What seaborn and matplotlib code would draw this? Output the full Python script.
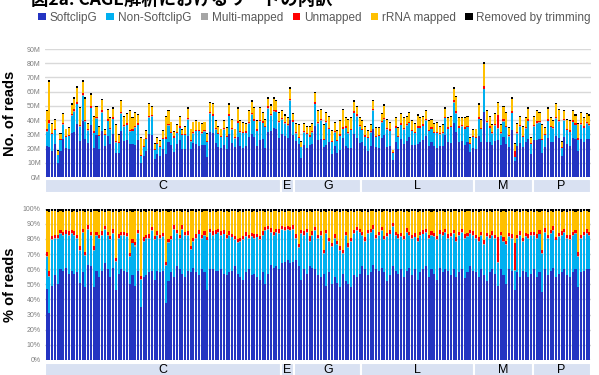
import numpy as np
import pandas as pd
import matplotlib
matplotlib.use("Agg")
import matplotlib.pyplot as plt
import seaborn as sns
from matplotlib.patches import Patch, Rectangle
from matplotlib.ticker import FuncFormatter

# --- data ---
groups = ["C", "E", "G", "L", "M", "P"]
group_sizes = [85, 5, 24, 41, 21, 21]

# total reads per sample (millions)
total_m = [
    # C
    47, 68, 38, 41, 19, 31, 45, 34, 35, 52,
    56, 64, 49, 68, 56, 38, 59, 43, 50, 36,
    55, 34, 48, 42, 49, 37, 30, 54, 43, 45,
    47, 42, 46, 44, 28, 27, 33, 52, 50, 24,
    28, 26, 33, 43, 47, 39, 32, 37, 43, 34,
    36, 49, 34, 39, 40, 39, 38, 39, 31, 53,
    52, 40, 36, 34, 40, 35, 52, 41, 34, 49,
    40, 39, 38, 47, 54, 49, 40, 49, 46, 41,
    56, 51, 56, 54, 46,
    # E
    47, 44, 42, 63, 45,
    # G
    38, 37, 25, 38, 36, 36, 38, 60, 47, 48,
    37, 46, 43, 33, 39, 33, 40, 48, 42, 41,
    42, 54, 50, 42,
    # L
    40, 36, 33, 37, 54, 35, 35, 45, 51, 41,
    39, 19, 42, 35, 45, 42, 43, 46, 40, 38,
    44, 42, 43, 47, 40, 41, 38, 39, 36, 37,
    49, 42, 43, 63, 57, 42, 42, 42, 43, 28,
    34,
    # M
    34, 52, 41, 81, 47, 43, 37, 45, 53, 37,
    50, 46, 35, 56, 24, 38, 43, 36, 42, 49,
    28,
    # P
    43, 47, 46, 37, 35, 49, 42, 40, 52, 48,
    25, 47, 41, 40, 47, 44, 38, 46, 42, 45,
    44,
]

# SoftclipG share (%)
softclip_pct = [
    # C
    47, 31, 49, 56, 50, 60, 59, 61, 57, 59,
    57, 58, 51, 58, 48, 63, 62, 48, 59, 55,
    59, 64, 60, 55, 61, 46, 57, 60, 59, 58,
    50, 56, 49, 59, 35, 55, 56, 58, 59, 53,
    59, 58, 59, 38, 52, 58, 55, 62, 60, 57,
    55, 59, 58, 61, 58, 56, 60, 58, 46, 60,
    60, 59, 59, 60, 57, 56, 58, 59, 62, 57,
    55, 53, 58, 60, 56, 57, 55, 53, 58, 50,
    57, 63, 61, 62, 60,
    # E
    64, 65, 66, 64, 65,
    # G
    66, 62, 53, 60, 57, 62, 61, 60, 56, 55,
    57, 49, 58, 50, 55, 51, 48, 57, 52, 50,
    48, 56, 55, 57,
    # L
    62, 60, 56, 58, 63, 60, 59, 61, 58, 52,
    56, 62, 59, 57, 60, 55, 59, 61, 56, 60,
    53, 58, 60, 62, 55, 60, 57, 53, 61, 58,
    60, 59, 56, 60, 55, 58, 60, 54, 58, 62,
    59,
    # M
    58, 55, 60, 56, 52, 58, 60, 57, 49, 60,
    56, 50, 60, 59, 46, 58, 55, 59, 58, 55,
    57,
    # P
    60, 55, 58, 45, 60, 56, 59, 61, 55, 57,
    58, 60, 56, 55, 58, 60, 48, 58, 59, 60,
    60,
]

# SoftclipG + Non-SoftclipG share (%)
uniq_pct = [
    # C
    68, 55, 79, 80, 80, 83, 82, 83, 82, 83,
    82, 80, 72, 84, 69, 86, 82, 72, 82, 80,
    82, 86, 82, 79, 83, 65, 80, 82, 82, 81,
    68, 77, 75, 83, 53, 78, 80, 80, 85, 79,
    82, 80, 81, 62, 77, 79, 86, 83, 80, 86,
    82, 82, 73, 78, 80, 83, 80, 82, 79, 84,
    82, 83, 84, 82, 83, 80, 82, 81, 79, 77,
    78, 79, 81, 80, 81, 80, 81, 79, 82, 85,
    86, 84, 82, 84, 83,
    # E
    86, 85, 86, 85, 86,
    # G
    80, 74, 83, 82, 84, 78, 82, 85, 80, 82,
    70, 83, 78, 75, 80, 76, 72, 70, 82, 74,
    78, 83, 85, 84,
    # L
    82, 78, 83, 84, 86, 80, 82, 85, 79, 81,
    83, 88, 82, 80, 81, 79, 84, 82, 80, 81,
    78, 82, 83, 84, 80, 82, 81, 79, 83, 82,
    84, 80, 81, 83, 78, 82, 84, 80, 81, 83,
    82,
    # M
    80, 78, 82, 76, 81, 80, 82, 80, 64, 82,
    78, 76, 81, 80, 59, 80, 82, 78, 81, 80,
    82,
    # P
    82, 80, 83, 70, 84, 80, 83, 85, 79, 81,
    82, 84, 80, 79, 82, 83, 68, 80, 82, 83,
    82,
]

multi_pct = [
    # C
    0.8, 0.6, 0.7, 0.8, 0.6, 0.7, 0.8, 0.6, 0.7, 0.8,
    0.6, 0.7, 0.8, 0.6, 0.7, 0.8, 0.6, 0.7, 0.8, 0.6,
    0.7, 0.8, 0.6, 0.7, 0.8, 0.6, 0.7, 0.8, 0.6, 0.7,
    0.8, 0.6, 0.7, 0.8, 0.6, 0.7, 0.8, 0.6, 0.7, 0.8,
    0.6, 0.7, 0.8, 0.6, 0.7, 0.8, 0.6, 0.7, 0.8, 0.6,
    0.7, 0.8, 0.6, 0.7, 0.8, 0.6, 0.7, 0.8, 0.6, 0.7,
    0.8, 0.6, 0.7, 0.8, 0.6, 0.7, 0.8, 0.6, 0.7, 0.8,
    0.6, 0.7, 0.8, 0.6, 0.7, 0.8, 0.6, 0.7, 0.8, 0.6,
    0.7, 0.8, 0.6, 0.7, 0.8,
    # E
    0.6, 0.7, 0.8, 0.6, 0.7,
    # G
    0.8, 0.6, 0.7, 0.8, 0.6, 0.7, 0.8, 0.6, 0.7, 0.8,
    0.6, 0.7, 0.8, 0.6, 0.7, 0.8, 0.6, 0.7, 0.8, 0.6,
    0.7, 0.8, 0.6, 0.7,
    # L
    0.8, 0.6, 0.7, 0.8, 0.6, 0.7, 0.8, 0.6, 0.7, 0.8,
    0.6, 0.7, 0.8, 0.6, 0.7, 0.8, 0.6, 0.7, 0.8, 0.6,
    0.7, 0.8, 0.6, 0.7, 0.8, 0.6, 0.7, 0.8, 0.6, 0.7,
    0.8, 0.6, 0.7, 0.8, 0.6, 0.7, 0.8, 0.6, 0.7, 0.8,
    0.6,
    # M
    0.7, 0.8, 0.6, 0.7, 0.8, 0.6, 0.7, 0.8, 0.6, 0.7,
    0.8, 0.6, 0.7, 0.8, 0.6, 0.7, 0.8, 0.6, 0.7, 0.8,
    0.6,
    # P
    0.7, 0.8, 0.6, 0.7, 0.8, 0.6, 0.7, 0.8, 0.6, 0.7,
    0.8, 0.6, 0.7, 0.8, 0.6, 0.7, 0.8, 0.6, 0.7, 0.8,
    0.6,
]

unmapped_pct = [
    # C
    2.5, 3, 2, 2, 2, 2.5, 2, 2, 2.5, 2,
    2.5, 2, 2.5, 2, 2, 2.5, 2, 2.5, 2, 2,
    2.5, 2, 2, 2, 2.5, 2, 2.5, 2, 2, 2.5,
    2, 2.5, 2, 2, 2, 2.5, 2, 2.5, 2, 2,
    2.5, 2, 2, 2.5, 2, 2, 2.5, 2, 2, 2.5,
    2, 2.5, 2, 2, 2.5, 2, 2, 2.5, 2, 2,
    2.5, 2, 2, 2.5, 2, 2, 2.5, 2, 2, 2.5,
    2, 2, 2.5, 2, 2, 2.5, 2, 2, 2.5, 2,
    2, 2.5, 2, 2, 2.5,
    # E
    2, 2.5, 2, 2, 2.5,
    # G
    2.5, 2, 2, 2.5, 2, 3, 2.5, 2, 2, 2.5,
    2, 2.5, 2, 2, 2.5, 2, 2.5, 2, 2, 2.5,
    2, 2, 2.5, 2,
    # L
    2, 2.5, 2, 2, 2.5, 2, 2, 2.5, 2, 2,
    2.5, 2, 2, 2.5, 2, 2, 2.5, 2, 2, 2.5,
    2, 2, 2.5, 2, 2, 2.5, 2, 2, 2.5, 2,
    2, 2.5, 2, 2, 2.5, 2, 2, 2.5, 2, 2,
    2.5,
    # M
    2, 2.5, 2, 2.5, 2, 2, 2.5, 2, 17, 2,
    2.5, 2, 2, 2.5, 18, 2, 2.5, 2, 2, 2.5,
    2,
    # P
    2, 2.5, 2, 2, 2.5, 2, 2, 2.5, 2, 2,
    2.5, 2, 2, 2.5, 2, 2, 2.5, 2, 2, 2.5,
    2,
]

removed_pct = [
    # C
    1.5, 2, 1.5, 1.5, 2, 1.5, 2, 1.5, 1.5, 2,
    1.5, 2, 1.5, 1.5, 2, 1.5, 2, 1.5, 1.5, 2,
    1.5, 2, 1.5, 1.5, 2, 1.5, 2, 1.5, 1.5, 2,
    1.5, 2, 1.5, 1.5, 2, 1.5, 2, 1.5, 1.5, 2,
    1.5, 2, 1.5, 1.5, 2, 1.5, 2, 1.5, 1.5, 2,
    1.5, 2, 1.5, 1.5, 2, 1.5, 2, 1.5, 1.5, 2,
    1.5, 2, 1.5, 1.5, 2, 1.5, 2, 1.5, 1.5, 2,
    1.5, 2, 1.5, 1.5, 2, 1.5, 2, 1.5, 1.5, 2,
    1.5, 2, 1.5, 1.5, 2,
    # E
    1.5, 2, 1.5, 1.5, 2,
    # G
    1.5, 2, 1.5, 1.5, 2, 1.5, 2, 1.5, 1.5, 2,
    1.5, 2, 1.5, 1.5, 2, 1.5, 2, 1.5, 1.5, 2,
    1.5, 2, 1.5, 1.5,
    # L
    2, 1.5, 2, 1.5, 1.5, 2, 1.5, 2, 1.5, 1.5,
    2, 1.5, 2, 1.5, 1.5, 2, 1.5, 2, 1.5, 1.5,
    2, 1.5, 2, 1.5, 1.5, 2, 1.5, 2, 1.5, 1.5,
    2, 1.5, 2, 1.5, 1.5, 2, 1.5, 2, 1.5, 1.5,
    2,
    # M
    1.5, 2, 1.5, 1.5, 2, 1.5, 2, 1.5, 1.5, 2,
    1.5, 2, 1.5, 1.5, 2, 1.5, 2, 1.5, 1.5, 2,
    1.5,
    # P
    2, 1.5, 2, 1.5, 1.5, 2, 1.5, 2, 1.5, 1.5,
    2, 1.5, 2, 1.5, 1.5, 2, 1.5, 2, 1.5, 1.5,
    2,
]

series_names = ["SoftclipG", "Non-SoftclipG", "Multi-mapped", "Unmapped",
                "rRNA mapped", "Removed by trimming"]
series_colors = ["#2434C2", "#00B0F0", "#A5A5A5", "#FF0000", "#FFC000", "#000000"]

# --- build the stacks (cumulative tops, drawn tallest first) ---
n = len(total_m)
idx = np.arange(n)
sg = np.array(softclip_pct, float)
uq = np.array(uniq_pct, float)
mm = np.array(multi_pct, float)
um = np.array(unmapped_pct, float)
rm = np.array(removed_pct, float)
tops_pct = [sg, uq, uq + mm, uq + mm + um, 100 - rm, np.full(n, 100.0)]
tot = np.array(total_m, float)

sns.set_theme(style="white")
plt.rcParams["font.family"] = ["Liberation Sans", "Noto Sans CJK JP", "DejaVu Sans"]

fig = plt.figure(figsize=(5.99, 3.75), dpi=100)
W, H = 599, 375
def px_axes(x0, y_top, x1, y_bot):
    return fig.add_axes([x0 / W, 1 - y_bot / H, (x1 - x0) / W, (y_bot - y_top) / H])

ax1 = px_axes(45, 49, 591, 177)
ax2 = px_axes(45, 208.7, 591, 360)

for ax, scale in [(ax1, tot / 100), (ax2, np.ones(n))]:
    for k in range(5, -1, -1):
        df = pd.DataFrame({"sample": idx, "val": tops_pct[k] * scale})
        sns.barplot(data=df, x="sample", y="val", color=series_colors[k],
                    saturation=1, width=0.74, errorbar=None, linewidth=0, ax=ax)
    ax.set_xlim(-0.6, n - 0.4)
    ax.set_xticks([])
    ax.set_xlabel("")
    ax.set_axisbelow(True)
    ax.yaxis.grid(True, color="#D9D9D9", linewidth=1)
    for s in ax.spines.values():
        s.set_visible(False)
    ax.tick_params(axis="y", length=0, pad=3, labelsize=5, labelcolor="#7F7F7F")

ax1.set_ylim(0, 90)
ax1.set_yticks(np.arange(0, 91, 10))
ax1.yaxis.set_major_formatter(FuncFormatter(lambda v, p: f"{int(v)}M"))
ax1.set_ylabel("No. of reads", fontsize=10.5, fontweight="bold", color="black")
ax1.yaxis.set_label_coords(-0.052, 0.5)

ax2.set_ylim(0, 100)
ax2.set_yticks(np.arange(0, 101, 10))
ax2.yaxis.set_major_formatter(FuncFormatter(lambda v, p: f"{int(v)}%"))
ax2.set_ylabel("% of reads", fontsize=10.5, fontweight="bold", color="black")
ax2.yaxis.set_label_coords(-0.052, 0.5)

# group bands under each panel
def group_band(y_top, y_bot):
    bx = px_axes(45, y_top, 591, y_bot)
    bx.set_xlim(-0.6, n - 0.4)
    bx.set_ylim(0, 1)
    bx.axis("off")
    start = 0
    for g, size in zip(groups, group_sizes):
        bx.add_patch(Rectangle((start - 0.5, 0), size, 1, facecolor="#D9E1F2",
                               edgecolor="white", linewidth=1.5, clip_on=False))
        bx.text(start - 0.5 + size / 2, 0.5, g, ha="center", va="center",
                fontsize=9, color="black")
        start += size
    return bx

group_band(179, 193)
group_band(363, 377)

# title (partly cut off at the top in the reference)
fig.text(0.052, 1.0, "図2a: CAGE解析におけるリードの内訳", ha="left", va="center",
         fontsize=12.5, fontweight="bold", color="black",
         family=["Noto Sans CJK JP", "DejaVu Sans"])

handles = [Patch(facecolor=c, edgecolor="none") for c in series_colors]
leg = fig.legend(handles, series_names, loc="center", bbox_to_anchor=(0.525, 0.953),
                 ncol=6, frameon=False, fontsize=8.5, handlelength=0.65,
                 handleheight=0.65, handletextpad=0.3, columnspacing=0.8,
                 prop={"family": ["Liberation Sans Narrow", "Liberation Sans"], "size": 8.5})
for t in leg.get_texts():
    t.set_color("#595959")

fig.savefig("out.png", dpi=100)
